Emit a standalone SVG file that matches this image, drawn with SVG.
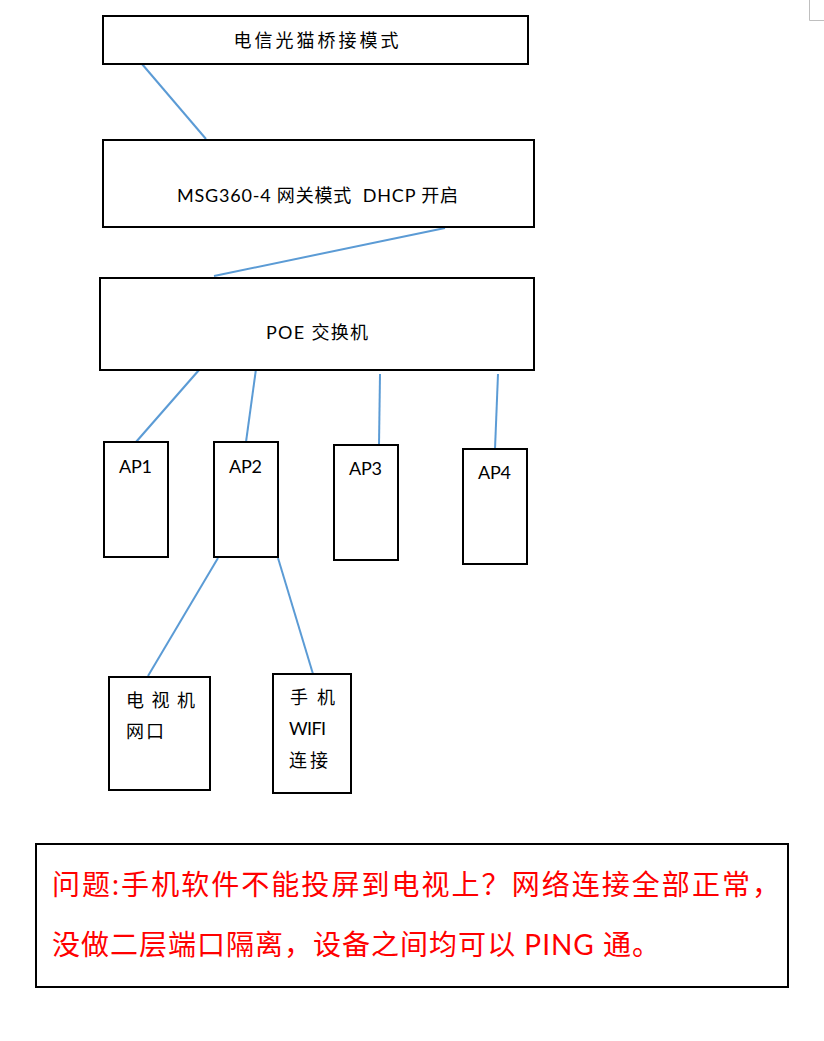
<svg xmlns="http://www.w3.org/2000/svg" width="824" height="1041" viewBox="0 0 824 1041">
<style>
.box{fill:#fff;stroke:#000;stroke-width:2}
.t{font-family:Lato,"Noto Sans CJK SC",sans-serif;font-size:18px;fill:#000}
.r{font-family:Lato,"Noto Sans CJK SC",sans-serif;font-size:28px;fill:#ff0000}
.c{stroke:#5b9bd5;stroke-width:2;fill:none}
</style>
<rect width="824" height="1041" fill="#fff"/>
<path d="M809.5 0V20.5H824" fill="none" stroke="#bfbfbf" stroke-width="1"/>
<g id="connectors">
<line class="c" x1="142" y1="64" x2="206" y2="139"/>
<line class="c" x1="445" y1="228" x2="214" y2="276"/>
<line class="c" x1="199" y1="370" x2="136" y2="442"/>
<line class="c" x1="256" y1="369" x2="246" y2="442"/>
<line class="c" x1="380" y1="374" x2="379" y2="445"/>
<line class="c" x1="498" y1="374" x2="495" y2="449"/>
<line class="c" x1="218" y1="558" x2="148" y2="676"/>
<line class="c" x1="278" y1="558" x2="313" y2="674"/>
</g>
<g id="modem">
<rect class="box" x="103" y="16" width="425" height="48"/>
<text class="t" x="316" y="47" text-anchor="middle" textLength="165">电信光猫桥接模式</text>
</g>
<g id="gateway">
<rect class="box" x="103" y="140" width="431" height="87"/>
<text class="t" x="177" y="202" textLength="281" xml:space="preserve">MSG360-4 网关模式  DHCP 开启</text>
</g>
<g id="switch">
<rect class="box" x="100" y="278" width="434" height="92"/>
<text class="t" x="266" y="339" textLength="102">POE 交换机</text>
</g>
<g id="ap1">
<rect class="box" x="104" y="442" width="64" height="115"/>
<text class="t" x="119" y="473" textLength="33">AP1</text>
</g>
<g id="ap2">
<rect class="box" x="214" y="442" width="64" height="115"/>
<text class="t" x="229" y="473" textLength="33">AP2</text>
</g>
<g id="ap3">
<rect class="box" x="334" y="445" width="64" height="115"/>
<text class="t" x="349" y="475" textLength="33">AP3</text>
</g>
<g id="ap4">
<rect class="box" x="463" y="449" width="64" height="115"/>
<text class="t" x="478" y="479" textLength="33">AP4</text>
</g>
<g id="tv">
<rect class="box" x="109" y="677" width="101" height="113"/>
<text class="t" x="126" y="707" textLength="69">电 视 机</text>
<text class="t" x="126" y="738" textLength="38">网口</text>
</g>
<g id="phone">
<rect class="box" x="273" y="674" width="78" height="119"/>
<text class="t" x="290" y="704" textLength="45">手 机</text>
<text class="t" x="289" y="735" textLength="37">WIFI</text>
<text class="t" x="289" y="767" textLength="39">连接</text>
</g>
<g id="note">
<rect class="box" x="36" y="844" width="752" height="143"/>
<text class="r" x="52" y="895" textLength="728">问题:手机软件不能投屏到电视上？网络连接全部正常，</text>
<text class="r" x="52" y="955" textLength="608">没做二层端口隔离，设备之间均可以 PING 通。</text>
</g>
</svg>
